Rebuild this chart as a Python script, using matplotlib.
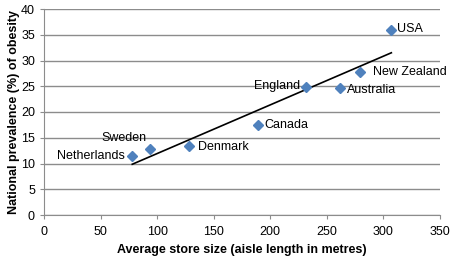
import numpy as np
import matplotlib
matplotlib.use('Agg')
import matplotlib.pyplot as plt

plt.rcParams['font.family'] = ['Liberation Sans', 'DejaVu Sans']

# values
countries = ['Netherlands', 'Sweden', 'Denmark', 'Canada', 'England', 'Australia', 'New Zealand', 'USA']
store_size = [78, 94, 128.5, 189, 231.5, 262, 279.5, 307]
obesity = [11.5, 12.8, 13.4, 17.4, 24.8, 24.6, 27.8, 35.9]

# label offsets in points
offsets = {'Netherlands': (-5, 0, 'right', 'center'),
           'Sweden': (-3, 4, 'right', 'bottom'),
           'Denmark': (6, -1, 'left', 'center'),
           'Canada': (5, 0, 'left', 'center'),
           'England': (-4, 1, 'right', 'center'),
           'Australia': (5, -1, 'left', 'center'),
           'New Zealand': (9, 0, 'left', 'center'),
           'USA': (4, 1, 'left', 'center')}

fig = plt.figure(figsize=(4.59, 2.62), dpi=100)
ax = fig.add_axes([44/459, 47/262, 396/459, 206/262])

ax.set_xlim(0, 350)
ax.set_ylim(0, 40)
ax.set_xticks(range(0, 351, 50))
ax.set_yticks(range(0, 41, 5))
ax.yaxis.grid(True, color='#8c8c8c', linewidth=1)
ax.set_axisbelow(True)
for s in ['top', 'right']:
    ax.spines[s].set_visible(False)
for s in ['left', 'bottom']:
    ax.spines[s].set_color('#8c8c8c')
ax.tick_params(colors='#8c8c8c', labelcolor='black', labelsize=9, length=3)
ax.tick_params(axis='x', pad=5)

# linear trendline
k, b = np.polyfit(store_size, obesity, 1)
xs = np.array([min(store_size), max(store_size)])
ax.plot(xs, k * xs + b, color='black', linewidth=1.2, zorder=2)

ax.plot(store_size, obesity, 'D', color='#4f81bd', markersize=5.5, zorder=3)
for c, x, y in zip(countries, store_size, obesity):
    dx, dy, ha, va = offsets[c]
    ax.annotate(c, (x, y), xytext=(dx, dy), textcoords='offset points',
                ha=ha, va=va, fontsize=9)

ax.set_xlabel('Average store size (aisle length in metres)', fontsize=9, fontweight='bold', labelpad=4)
ax.set_ylabel('National prevalence (%) of obesity', fontsize=9, fontweight='bold', labelpad=1)

fig.savefig('out.png', dpi=100)
